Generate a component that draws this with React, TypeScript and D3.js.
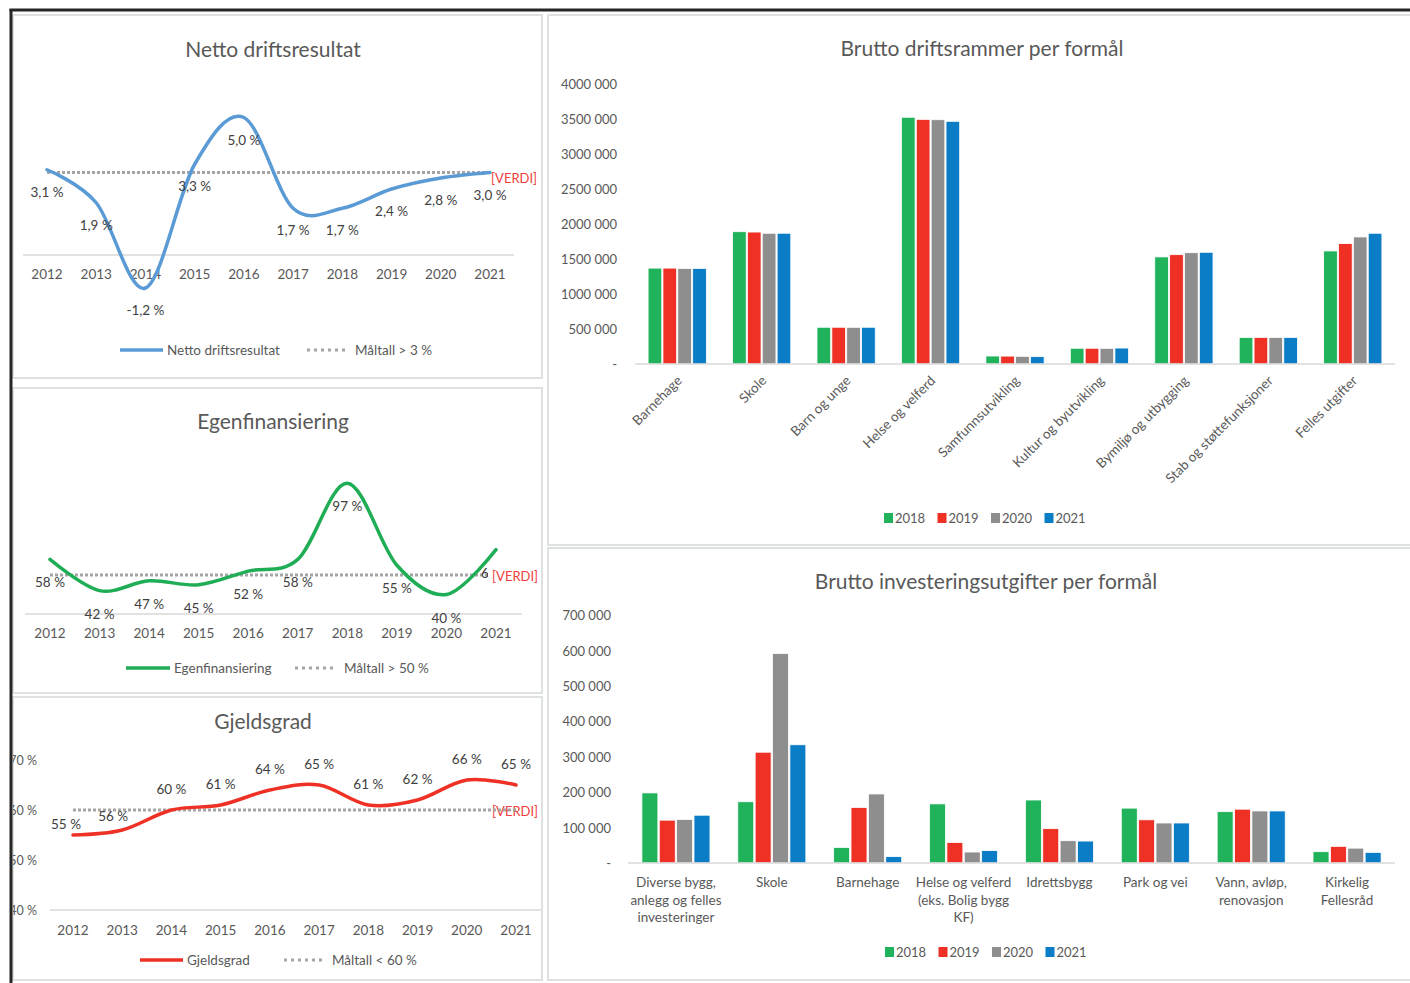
import React from "react";
import * as d3 from "d3";

// ---- data ----
const years = ["2012", "2013", "2014", "2015", "2016", "2017", "2018", "2019", "2020", "2021"];

const nettoValues = [3.1, 1.9, -1.2, 3.3, 5.0, 1.7, 1.7, 2.4, 2.8, 3.0];
const nettoTarget = 3;

const egenValues = [58, 42, 47, 45, 52, 58, 97, 55, 40, 63];
const egenTarget = 50;

const gjeldValues = [55, 56, 60, 61, 64, 65, 61, 62, 66, 65];
const gjeldTarget = 60;
const gjeldTicks = [40, 50, 60, 70];

const barYears = ["2018", "2019", "2020", "2021"];

const driftCategories = [
  "Barnehage",
  "Skole",
  "Barn og unge",
  "Helse og velferd",
  "Samfunnsutvikling",
  "Kultur og byutvikling",
  "Bymiljø og utbygging",
  "Stab og støttefunksjoner",
  "Felles utgifter",
];
const drift2018 = [1370000, 1890000, 525000, 3525000, 114000, 225000, 1530000, 380000, 1615000];
const drift2019 = [1370000, 1885000, 525000, 3495000, 113000, 225000, 1562000, 380000, 1720000];
const drift2020 = [1365000, 1868000, 524000, 3490000, 110000, 224000, 1590000, 380000, 1815000];
const drift2021 = [1365000, 1868000, 525000, 3467000, 105000, 228000, 1596000, 380000, 1868000];

const investCategories = [
  "Diverse bygg,\nanlegg og felles\ninvesteringer",
  "Skole",
  "Barnehage",
  "Helse og velferd\n(eks. Bolig bygg\nKF)",
  "Idrettsbygg",
  "Park og vei",
  "Vann, avløp,\nrenovasjon",
  "Kirkelig\nFellesråd",
];
const invest2018 = [198000, 173000, 44000, 167000, 178000, 155000, 145000, 32000];
const invest2019 = [121000, 313000, 157000, 58000, 97000, 122000, 152000, 47000];
const invest2020 = [123000, 592000, 195000, 31000, 63000, 113000, 147000, 42000];
const invest2021 = [135000, 334000, 18000, 35000, 62000, 113000, 147000, 30000];

// ---- styles ----
const FONT = "Lato, 'Open Sans', sans-serif";
const TEXT = "#595959";
const LABEL = "#404040";
const AXIS = "#d9d9d9";
const TARGET = "#a5a5a5";
const VERDI = "#f03c3c";
const PANEL = "#dde2e0";
const barColors = ["#21b25c", "#ee3124", "#8e8e8e", "#0b7dc6"];
const TITLE_SIZE = 21;

const pct = (v: number, dec: number) => v.toFixed(dec).replace(".", ",") + " %";
const money = (v: number) =>
  v === 0 ? "-" : `${Math.floor(v / 1000)} ${String(v % 1000).padStart(3, "0")}`;

type Box = { x: number; y: number; w: number; h: number };

interface LineProps {
  id: string;
  panel: Box;
  title: string;
  titleX: number;
  titleY: number;
  values: number[];
  target: number;
  color: string;
  decimals: number;
  xRange: [number, number];
  yDomain: [number, number];
  yRange: [number, number];
  axisX: [number, number];
  axisValue: number;
  yearY: number;
  labelDy: number;
  labelShift?: [number, number][];
  yTicks?: number[];
  yTickX?: number;
  verdi: [number, number];
  verdiBg?: boolean;
  verdiUnder?: boolean;
  legendY: number;
  legendLine: [number, number];
  legendName: string;
  legendDots: [number, number];
  targetName: string;
}

const LineChart: React.FC<LineProps> = (p) => {
  const x = d3.scalePoint<string>().domain(years).range(p.xRange).padding(0);
  const y = d3.scaleLinear().domain(p.yDomain).range(p.yRange);
  const line = d3
    .line<number>()
    .x((_, i) => x(years[i]) as number)
    .y((d) => y(d))
    .curve(d3.curveCardinal.tension(0));
  const x0 = x(years[0]) as number;
  const x1 = x(years[years.length - 1]) as number;
  const ty = y(p.target);

  const targetLine = (
    <line x1={x0} x2={x1} y1={ty} y2={ty} stroke={TARGET} strokeWidth={3} strokeDasharray="3 2" />
  );
  const verdi = (
    <g>
      {p.verdiBg && <rect x={p.verdi[0] - 4} y={p.verdi[1] - 9} width={52} height={18} fill="#fff" />}
      <text x={p.verdi[0]} y={p.verdi[1]} fill={VERDI} fontSize={13} dominantBaseline="central">
        [VERDI]
      </text>
    </g>
  );

  return (
    <g fontFamily={FONT}>
      <clipPath id={`clip-${p.id}`}>
        <rect x={p.panel.x} y={p.panel.y} width={p.panel.w} height={p.panel.h} />
      </clipPath>
      <rect x={p.panel.x} y={p.panel.y} width={p.panel.w} height={p.panel.h} fill="#fff" stroke={PANEL} strokeWidth={2} />
      <g clipPath={`url(#clip-${p.id})`}>
        <text x={p.titleX} y={p.titleY} textAnchor="middle" dominantBaseline="central" fontSize={TITLE_SIZE} fill={TEXT}>
          {p.title}
        </text>
        {p.yTicks &&
          p.yTicks.map((t) => (
            <text key={t} x={p.yTickX} y={y(t)} textAnchor="end" dominantBaseline="central" fontSize={12.5} fill={TEXT}>
              {t} %
            </text>
          ))}
        <line x1={p.axisX[0]} x2={p.axisX[1]} y1={y(p.axisValue)} y2={y(p.axisValue)} stroke={AXIS} strokeWidth={1.5} />
        {years.map((yr) => (
          <text key={yr} x={x(yr)} y={p.yearY} textAnchor="middle" dominantBaseline="central" fontSize={13.5} fill={TEXT}>
            {yr}
          </text>
        ))}
        {p.verdiUnder ? verdi : null}
        {targetLine}
        <path d={line(p.values) || ""} fill="none" stroke={p.color} strokeWidth={3.5} strokeLinecap="round" />
        {p.values.map((v, i) => {
          const s = p.labelShift ? p.labelShift[i] : [0, 0];
          return (
            <text
              key={i}
              x={(x(years[i]) as number) + s[0]}
              y={y(v) + p.labelDy + s[1]}
              textAnchor="middle"
              dominantBaseline="central"
              fontSize={13.5}
              fill={LABEL}
            >
              {pct(v, p.decimals)}
            </text>
          );
        })}
        {p.verdiUnder ? null : verdi}
        <line x1={p.legendLine[0]} x2={p.legendLine[1]} y1={p.legendY} y2={p.legendY} stroke={p.color} strokeWidth={3.5} />
        <text x={p.legendLine[1] + 4} y={p.legendY} dominantBaseline="central" fontSize={13.5} fill={TEXT}>
          {p.legendName}
        </text>
        <line
          x1={p.legendDots[0]}
          x2={p.legendDots[1]}
          y1={p.legendY}
          y2={p.legendY}
          stroke={TARGET}
          strokeWidth={3}
          strokeDasharray="3 4"
        />
        <text x={p.legendDots[1] + 8} y={p.legendY} dominantBaseline="central" fontSize={13.5} fill={TEXT}>
          {p.targetName}
        </text>
      </g>
    </g>
  );
};

interface BarProps {
  id: string;
  panel: Box;
  title: string;
  titleX: number;
  titleY: number;
  categories: string[];
  series: number[][];
  xRange: [number, number];
  yDomain: [number, number];
  yRange: [number, number];
  ticks: number[];
  tickX: number;
  paddingInner: number;
  rotate: boolean;
  labelY: number;
  legendY: number;
  legendX: number;
}

const BarChart: React.FC<BarProps> = (p) => {
  const x = d3
    .scaleBand<string>()
    .domain(p.categories)
    .range(p.xRange)
    .paddingInner(p.paddingInner)
    .paddingOuter(p.paddingInner / 2);
  const xs = d3.scaleBand<string>().domain(barYears).range([0, x.bandwidth()]).paddingInner(0.08);
  const y = d3.scaleLinear().domain(p.yDomain).range(p.yRange);

  return (
    <g fontFamily={FONT}>
      <clipPath id={`clip-${p.id}`}>
        <rect x={p.panel.x} y={p.panel.y} width={p.panel.w} height={p.panel.h} />
      </clipPath>
      <rect x={p.panel.x} y={p.panel.y} width={p.panel.w} height={p.panel.h} fill="#fff" stroke={PANEL} strokeWidth={2} />
      <g clipPath={`url(#clip-${p.id})`}>
        <text x={p.titleX} y={p.titleY} textAnchor="middle" dominantBaseline="central" fontSize={TITLE_SIZE} fill={TEXT}>
          {p.title}
        </text>
        {p.ticks.map((t) => (
          <text key={t} x={p.tickX} y={y(t)} textAnchor="end" dominantBaseline="central" fontSize={13} fill={TEXT}>
            {money(t)}
          </text>
        ))}
        {p.categories.map((c, ci) => (
          <g key={c} transform={`translate(${x(c)},0)`}>
            {p.series.map((s, si) => (
              <rect
                key={si}
                x={xs(barYears[si])}
                y={y(s[ci])}
                width={xs.bandwidth()}
                height={y(0) - y(s[ci])}
                fill={barColors[si]}
                stroke="#fff"
                strokeWidth={0.8}
              />
            ))}
          </g>
        ))}
        <line x1={p.xRange[0]} x2={p.xRange[1]} y1={y(0)} y2={y(0)} stroke={AXIS} strokeWidth={1.5} />
        {p.categories.map((c) => {
          const cx = (x(c) as number) + x.bandwidth() / 2;
          if (p.rotate) {
            return (
              <text
                key={c}
                transform={`translate(${cx + 2},${p.labelY}) rotate(-45)`}
                textAnchor="end"
                dominantBaseline="central"
                fontSize={13.5}
                fill={TEXT}
              >
                {c}
              </text>
            );
          }
          return (
            <text key={c} x={cx} y={p.labelY} textAnchor="middle" fontSize={13.5} fill={TEXT}>
              {c.split("\n").map((ln, i) => (
                <tspan key={i} x={cx} dy={i === 0 ? 0 : 17.5} dominantBaseline="central">
                  {ln}
                </tspan>
              ))}
            </text>
          );
        })}
        {barYears.map((yr, i) => (
          <g key={yr} transform={`translate(${p.legendX + i * 53.5},${p.legendY})`}>
            <rect x={0} y={-5} width={9} height={10} fill={barColors[i]} />
            <text x={11} y={0} dominantBaseline="central" fontSize={13} fill={TEXT}>
              {yr}
            </text>
          </g>
        ))}
      </g>
    </g>
  );
};

export default function App() {
  return (
    <svg
      width={1410}
      height={983}
      viewBox="0 0 1410 983"
      style={{ position: "absolute", left: 0, top: 0, background: "#fff" }}
    >
      <LineChart
        id="netto"
        panel={{ x: 13, y: 15, w: 529, h: 363 }}
        title="Netto driftsresultat"
        titleX={273}
        titleY={48}
        values={nettoValues}
        target={nettoTarget}
        color="#5b9bd5"
        decimals={1}
        xRange={[47, 490]}
        yDomain={[0, 5]}
        yRange={[255, 117.5]}
        axisX={[23, 514]}
        axisValue={0}
        yearY={274}
        labelDy={22}
        verdi={[491, 178]}
        legendY={350}
        legendLine={[120, 163]}
        legendName="Netto driftsresultat"
        legendDots={[307, 347]}
        targetName="Måltall > 3 %"
      />
      <LineChart
        id="egen"
        panel={{ x: 13, y: 388, w: 529, h: 305 }}
        title="Egenfinansiering"
        titleX={273}
        titleY={420}
        values={egenValues}
        target={egenTarget}
        color="#1fad55"
        decimals={0}
        xRange={[50, 496]}
        yDomain={[30, 100]}
        yRange={[614, 477.5]}
        axisX={[25, 522]}
        axisValue={30}
        yearY={633}
        labelDy={23}
        verdi={[492, 576]}
        verdiBg
        legendY={668}
        legendLine={[126, 170]}
        legendName="Egenfinansiering"
        legendDots={[295, 336]}
        targetName="Måltall > 50 %"
      />
      <LineChart
        id="gjeld"
        panel={{ x: 13, y: 697, w: 529, h: 283 }}
        title="Gjeldsgrad"
        titleX={263}
        titleY={720}
        values={gjeldValues}
        target={gjeldTarget}
        color="#ee3124"
        decimals={0}
        xRange={[73, 516]}
        yDomain={[40, 70]}
        yRange={[910, 760]}
        axisX={[50, 541]}
        axisValue={40}
        yearY={930}
        labelDy={-21}
        labelShift={[[-7, 10], [-9, 7], [0, 0], [0, 0], [0, 0], [0, 0], [0, 0], [0, 0], [0, 0], [0, 0]]}
        yTicks={gjeldTicks}
        yTickX={37}
        verdi={[492, 811]}
        verdiUnder
        legendY={960}
        legendLine={[140, 183]}
        legendName="Gjeldsgrad"
        legendDots={[284, 324]}
        targetName="Måltall < 60 %"
      />
      <BarChart
        id="drift"
        panel={{ x: 548, y: 15, w: 870, h: 530 }}
        title="Brutto driftsrammer per formål"
        titleX={982}
        titleY={47}
        categories={driftCategories}
        series={[drift2018, drift2019, drift2020, drift2021]}
        xRange={[635, 1395]}
        yDomain={[0, 4000000]}
        yRange={[364, 84]}
        ticks={d3.range(0, 4000001, 500000)}
        tickX={617}
        paddingInner={0.31}
        rotate
        labelY={378}
        legendY={518}
        legendX={884}
      />
      <BarChart
        id="invest"
        panel={{ x: 548, y: 548, w: 870, h: 432 }}
        title="Brutto investeringsutgifter per formål"
        titleX={986}
        titleY={580}
        categories={investCategories}
        series={[invest2018, invest2019, invest2020, invest2021]}
        xRange={[628, 1395]}
        yDomain={[0, 700000]}
        yRange={[863, 615.2]}
        ticks={d3.range(0, 700001, 100000)}
        tickX={611}
        paddingInner={0.29}
        rotate={false}
        labelY={882}
        legendY={952}
        legendX={885}
      />
      <line x1={9.5} x2={1410} y1={10} y2={10} stroke="#262626" strokeWidth={3} />
      <line x1={11} x2={11} y1={9} y2={983} stroke="#262626" strokeWidth={3} />
    </svg>
  );
}
